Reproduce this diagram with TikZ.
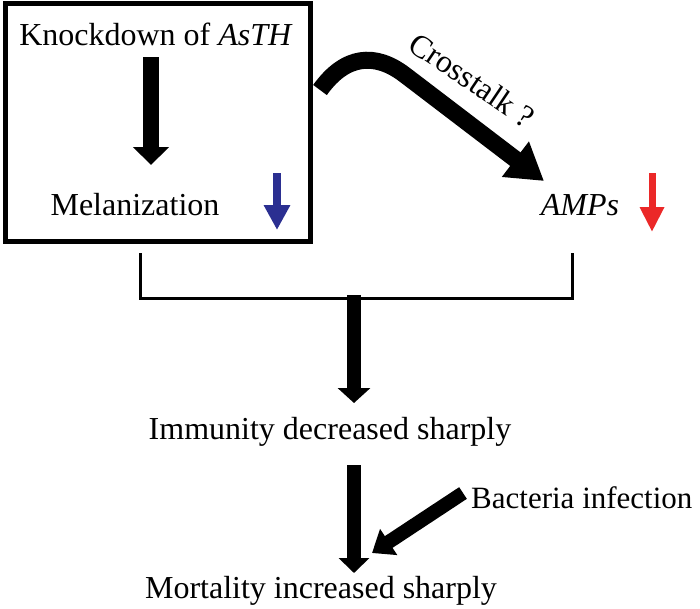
\documentclass[tikz,border=0pt]{standalone}
\usepackage{fontspec}
\setmainfont{Liberation Serif}
\usetikzlibrary{arrows.meta}
\definecolor{myblue}{RGB}{43,47,145}
\definecolor{myred}{RGB}{235,40,40}
\begin{document}
\begin{tikzpicture}[x=1pt,y=-1pt,
  lbl/.style={inner sep=0pt, font=\fontsize{32}{36}\selectfont},
  fatarrow/.style={line width=16pt, -{Triangle[width=35pt,length=18pt]}},
]
\useasboundingbox (0,0) rectangle (700,608);
% box
\draw[line width=5pt] (5,3) rectangle (310,241);
% texts
\node[lbl, anchor=base] (knock) at (156,45) {Knockdown of \textit{AsTH}};
\node[lbl, anchor=base] (mel) at (135,215) {Melanization};
\node[lbl, anchor=base] (amps) at (580,215) {\textit{AMPs}};
\node[lbl, anchor=base] (imm) at (330,439) {Immunity decreased sharply};
\node[lbl, anchor=base west, font=\fontsize{31}{36}\selectfont] (bact) at (471,508) {Bacteria infection};
\node[lbl, anchor=base] (mort) at (321,598) {Mortality increased sharply};
\node[lbl, rotate=-34] (cross) at (472,80) {Crosstalk ?};
% coordinates
\coordinate (k1) at (151,57); \coordinate (k2) at (151,165);
\coordinate (b1) at (277,173); \coordinate (b2) at (277,230);
\coordinate (r1) at (652,173); \coordinate (r2) at (652,232);
\coordinate (c1) at (320,90); \coordinate (c2) at (405,75); \coordinate (c3) at (544,181);
\coordinate (bl) at (140,253); \coordinate (bm) at (354,298); \coordinate (br) at (572,253);
\coordinate (i1) at (354,295); \coordinate (i2) at (354,403);
\coordinate (m1) at (354,465); \coordinate (m2) at (354,573);
\coordinate (x1) at (463,493); \coordinate (x2) at (372,553);
% arrows
\draw[fatarrow] (k1) -- (k2);
\draw[myblue, line width=8pt, -{Triangle[width=25pt,length=25pt]}] (b1) -- (b2);
\draw[myred, line width=7pt, -{Triangle[width=23pt,length=25pt]}] (r1) -- (r2);
\draw[line width=17pt, -{Triangle[width=42pt,length=36pt]}] (c1) .. controls (345,55) and (375,52) .. (c2) -- (c3);
\draw[line width=3pt] (bl) |- (bm) -| (br);
\draw[line width=14pt, -{Triangle[width=32pt,length=15pt]}] (i1) -- (i2);
\draw[line width=14pt, -{Triangle[width=30pt,length=15pt]}] (m1) -- (m2);
\draw[line width=14pt, -{Triangle[width=30pt,length=20pt]}] (x1) -- (x2);
\end{tikzpicture}
\end{document}
